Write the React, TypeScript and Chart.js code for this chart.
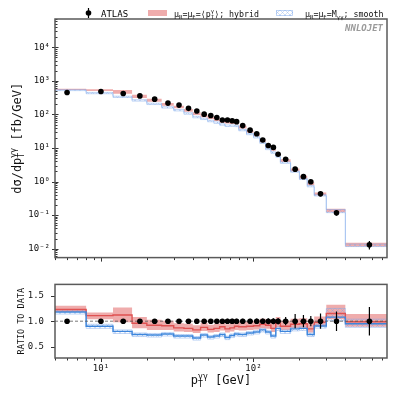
import React, { useEffect, useRef } from "react";
import { Chart, registerables } from "chart.js";

Chart.register(...registerables);

// ---------- data ----------
const binEdges = [4, 8, 12, 16, 20, 25, 30, 35, 40, 45, 50, 55, 60, 65, 70, 75, 80, 90, 100, 110, 120, 130, 140, 150, 175, 200, 225, 250, 300, 400, 750];
const binCenters = [6, 10, 14, 18, 22.5, 27.5, 32.5, 37.5, 42.5, 47.5, 52.5, 57.5, 62.5, 67.5, 72.5, 77.5, 85, 95, 105, 115, 125, 135, 145, 162.5, 187.5, 212.5, 237.5, 275, 350, 575];
const atlasXsec = [450, 482, 421, 357, 286, 218, 190, 152, 126, 102, 93, 81, 68.5, 68.5, 65, 61, 46.5, 34, 26.5, 17.3, 11.9, 10.4, 6.5, 4.6, 2.34, 1.4, 0.99, 0.43, 0.117, 0.0131];
const atlasRelErr = [0.045, 0.04, 0.04, 0.04, 0.04, 0.04, 0.04, 0.04, 0.04, 0.04, 0.045, 0.045, 0.045, 0.05, 0.05, 0.05, 0.05, 0.05, 0.055, 0.055, 0.06, 0.06, 0.065, 0.08, 0.14, 0.12, 0.1, 0.15, 0.19, 0.28];

// theory / data ratios
const hybridRatio = [1.23, 1.11, 1.12, 0.96, 0.92, 0.91, 0.87, 0.86, 0.83, 0.88, 0.84, 0.86, 0.89, 0.85, 0.87, 0.9, 0.89, 0.9, 0.91, 0.94, 0.92, 0.86, 0.96, 0.9, 0.94, 0.95, 0.85, 0.98, 1.15, 0.99];
const hybridRatioLo = [1.18, 1.04, 0.98, 0.86, 0.83, 0.83, 0.8, 0.79, 0.77, 0.81, 0.78, 0.79, 0.82, 0.78, 0.8, 0.83, 0.82, 0.83, 0.84, 0.86, 0.85, 0.79, 0.88, 0.83, 0.86, 0.87, 0.78, 0.9, 1.04, 0.89];
const hybridRatioHi = [1.3, 1.17, 1.27, 1.08, 1.03, 1.01, 0.96, 0.95, 0.92, 0.97, 0.93, 0.95, 0.99, 0.94, 0.97, 1.0, 0.99, 1.0, 1.02, 1.05, 1.03, 0.96, 1.08, 1.01, 1.05, 1.06, 0.96, 1.09, 1.32, 1.14];
const smoothRatio = [1.18, 0.9, 0.8, 0.74, 0.73, 0.75, 0.71, 0.71, 0.67, 0.73, 0.69, 0.71, 0.74, 0.68, 0.72, 0.75, 0.74, 0.77, 0.79, 0.83, 0.79, 0.71, 0.86, 0.8, 0.85, 0.86, 0.74, 0.905, 1.08, 0.95];
const smoothRatioLo = [1.14, 0.86, 0.76, 0.7, 0.69, 0.71, 0.67, 0.67, 0.63, 0.69, 0.65, 0.67, 0.7, 0.64, 0.68, 0.71, 0.7, 0.73, 0.75, 0.79, 0.75, 0.67, 0.82, 0.76, 0.81, 0.82, 0.7, 0.865, 1.01, 0.88];
const smoothRatioHi = [1.22, 0.94, 0.83, 0.77, 0.76, 0.78, 0.74, 0.74, 0.7, 0.76, 0.72, 0.74, 0.77, 0.71, 0.75, 0.78, 0.77, 0.8, 0.82, 0.86, 0.82, 0.74, 0.89, 0.83, 0.88, 0.89, 0.77, 0.94, 1.25, 1.04];

const yDecadeTicks = [1e-2, 1e-1, 1, 10, 100, 1000, 10000];
const ratioTicks = [0.5, 1.0, 1.5];
const xDecadeTicks = [10, 100];

const X_MIN = 5;
const X_MAX = 750;
const Y_MIN = 0.0054;
const Y_MAX = 70000;
const R_MIN = 0.28;
const R_MAX = 1.72;

// ---------- labels ----------
type Part = { t: string; sub?: string; sup?: string };
const yTitleParts: Part[] = [{ t: "dσ/dp", sub: "T", sup: "γγ" }, { t: " [fb/GeV]" }];
const xTitleParts: Part[] = [{ t: "p", sub: "T", sup: "γγ" }, { t: " [GeV]" }];
const hybridLabelParts: Part[] = [{ t: "μ", sub: "R" }, { t: "=μ", sub: "F" }, { t: "=⟨p", sub: "T", sup: "γ" }, { t: "⟩; hybrid" }];
const smoothLabelParts: Part[] = [{ t: "μ", sub: "R" }, { t: "=μ", sub: "F" }, { t: "=M", sub: "γγ" }, { t: "; smooth" }];
const dataLabel = "ATLAS";
const ratioTitle = "RATIO TO DATA";
const watermark = "NNLOJET";

// ---------- style ----------
const FONT = '"DejaVu Sans Mono", "Liberation Mono", monospace';
const RED_FILL = "rgba(226, 104, 104, 0.55)";
const RED_LINE = "#df5252";
const BLUE_EDGE = "rgba(125, 168, 236, 0.6)";
const BLUE_LINE = "#3d86dc";
const HATCH_COLOR = "rgba(125, 165, 230, 0.5)";

const SUP: Record<string, string> = { "0": "⁰", "1": "¹", "2": "²", "3": "³", "4": "⁴", "5": "⁵", "6": "⁶", "7": "⁷", "8": "⁸", "9": "⁹", "-": "⁻" };
const pow10Label = (v: number) =>
  "10" + String(Math.round(Math.log10(v))).split("").map((c) => SUP[c] || c).join("");

function logTickValues(min: number, max: number) {
  const out: { v: number; major: boolean }[] = [];
  for (let d = Math.floor(Math.log10(min)); d <= Math.ceil(Math.log10(max)); d++) {
    for (let m = 1; m <= 9; m++) {
      const v = m * Math.pow(10, d);
      if (v >= min * 0.9999 && v <= max * 1.0001) out.push({ v, major: m === 1 });
    }
  }
  return out;
}

function steps(values: number[], factor?: number[]) {
  return binEdges.map((e, i) => {
    const k = Math.min(i, values.length - 1);
    return { x: e, y: values[k] * (factor ? factor[k] : 1) };
  });
}

function makeHatch(): CanvasPattern | string {
  const c = document.createElement("canvas");
  c.width = 5;
  c.height = 5;
  const g = c.getContext("2d");
  if (!g) return HATCH_COLOR;
  g.strokeStyle = HATCH_COLOR;
  g.lineWidth = 0.7;
  g.beginPath();
  g.moveTo(0, 5);
  g.lineTo(5, 0);
  g.moveTo(0, 0);
  g.lineTo(5, 5);
  g.stroke();
  return g.createPattern(c, "repeat") || HATCH_COLOR;
}

function richWidth(ctx: CanvasRenderingContext2D, parts: Part[], size: number) {
  let w = 0;
  for (const p of parts) {
    ctx.font = `${size}px ${FONT}`;
    w += ctx.measureText(p.t).width;
    ctx.font = `${size * 0.68}px ${FONT}`;
    w += Math.max(p.sub ? ctx.measureText(p.sub).width : 0, p.sup ? ctx.measureText(p.sup).width : 0);
  }
  return w;
}

function drawRich(ctx: CanvasRenderingContext2D, x: number, y: number, parts: Part[], size: number, align: "left" | "center", color = "#111") {
  const w = richWidth(ctx, parts, size);
  let cx = align === "center" ? x - w / 2 : x;
  ctx.textAlign = "left";
  ctx.textBaseline = "alphabetic";
  ctx.fillStyle = color;
  for (const p of parts) {
    ctx.font = `${size}px ${FONT}`;
    ctx.fillText(p.t, cx, y);
    cx += ctx.measureText(p.t).width;
    ctx.font = `${size * 0.68}px ${FONT}`;
    let sw = 0;
    if (p.sub) {
      ctx.fillText(p.sub, cx, y + size * 0.28);
      sw = Math.max(sw, ctx.measureText(p.sub).width);
    }
    if (p.sup) {
      ctx.fillText(p.sup, cx, y - size * 0.42);
      sw = Math.max(sw, ctx.measureText(p.sup).width);
    }
    cx += sw;
  }
}

function drawFrame(chart: any) {
  const { ctx, chartArea: a } = chart;
  ctx.save();
  ctx.strokeStyle = "#5a5a5a";
  ctx.lineWidth = 1.5;
  ctx.strokeRect(a.left, a.top, a.right - a.left, a.bottom - a.top);
  ctx.restore();
}

function drawXTicks(chart: any) {
  const { ctx, chartArea: a, scales } = chart;
  ctx.save();
  ctx.strokeStyle = "#333";
  ctx.lineWidth = 1;
  ctx.beginPath();
  for (const t of logTickValues(X_MIN, X_MAX)) {
    const px = Math.round(scales.x.getPixelForValue(t.v)) + 0.5;
    ctx.moveTo(px, a.bottom);
    ctx.lineTo(px, a.bottom + (t.major ? 4 : 2.5));
  }
  ctx.stroke();
  ctx.restore();
}

const topDecor = {
  id: "topDecor",
  afterDatasetsDraw(chart: any) {
    const { ctx, scales } = chart;
    ctx.save();
    ctx.strokeStyle = "#000";
    ctx.lineWidth = 1.2;
    ctx.beginPath();
    binCenters.forEach((c, i) => {
      const px = scales.x.getPixelForValue(c);
      const v = atlasXsec[i];
      const e = atlasRelErr[i];
      ctx.moveTo(px, scales.y.getPixelForValue(v * (1 - e)));
      ctx.lineTo(px, scales.y.getPixelForValue(v * (1 + e)));
    });
    ctx.stroke();
    ctx.restore();
  },
  afterDraw(chart: any) {
    const { ctx, chartArea: a, scales } = chart;
    drawXTicks(chart);
    ctx.save();
    ctx.strokeStyle = "#333";
    ctx.lineWidth = 1;
    ctx.beginPath();
    for (const t of logTickValues(Y_MIN, Y_MAX)) {
      const py = Math.round(scales.y.getPixelForValue(t.v)) + 0.5;
      if (t.major) {
        ctx.moveTo(a.left - 3, py);
        ctx.lineTo(a.left + 3.5, py);
      } else {
        ctx.moveTo(a.left, py);
        ctx.lineTo(a.left + 2.5, py);
      }
    }
    ctx.stroke();
    ctx.restore();
    drawFrame(chart);

    ctx.save();
    // legend
    ctx.fillStyle = "#000";
    ctx.strokeStyle = "#000";
    ctx.lineWidth = 1.2;
    ctx.beginPath();
    ctx.moveTo(88.5, 8);
    ctx.lineTo(88.5, 18);
    ctx.stroke();
    ctx.beginPath();
    ctx.arc(88.5, 13, 2.8, 0, Math.PI * 2);
    ctx.fill();
    ctx.font = `9px ${FONT}`;
    ctx.textAlign = "left";
    ctx.textBaseline = "alphabetic";
    ctx.fillText(dataLabel, 101, 16.5);

    ctx.fillStyle = RED_FILL;
    ctx.fillRect(148, 10, 19, 6);
    drawRich(ctx, 174, 16.5, hybridLabelParts, 8.3, "left");

    ctx.fillStyle = (chart as any).$hatch || HATCH_COLOR;
    ctx.fillRect(276, 10, 17, 6);
    ctx.strokeStyle = BLUE_EDGE;
    ctx.lineWidth = 0.8;
    ctx.strokeRect(276.5, 10.5, 16, 5);
    drawRich(ctx, 305, 16.5, smoothLabelParts, 8.3, "left");

    // watermark
    ctx.font = `italic bold 9px ${FONT}`;
    ctx.fillStyle = "#9a9a9a";
    ctx.textAlign = "right";
    ctx.fillText(watermark, 383, 31);

    // y title
    ctx.translate(21, (a.top + a.bottom) / 2);
    ctx.rotate(-Math.PI / 2);
    drawRich(ctx, 0, 0, yTitleParts, 12, "center");
    ctx.restore();
  },
};

const ratioDecor = {
  id: "ratioDecor",
  afterDatasetsDraw(chart: any) {
    const { ctx, scales } = chart;
    ctx.save();
    ctx.strokeStyle = "#000";
    ctx.lineWidth = 1.2;
    ctx.beginPath();
    binCenters.forEach((c, i) => {
      const px = scales.x.getPixelForValue(c);
      const e = atlasRelErr[i];
      ctx.moveTo(px, scales.y.getPixelForValue(1 - e));
      ctx.lineTo(px, scales.y.getPixelForValue(1 + e));
    });
    ctx.stroke();
    ctx.restore();
  },
  afterDraw(chart: any) {
    const { ctx, chartArea: a, scales } = chart;
    drawXTicks(chart);
    ctx.save();
    ctx.strokeStyle = "#333";
    ctx.lineWidth = 1;
    ctx.beginPath();
    for (const v of ratioTicks) {
      const py = Math.round(scales.y.getPixelForValue(v)) + 0.5;
      ctx.moveTo(a.left - 4, py);
      ctx.lineTo(a.left, py);
    }
    ctx.stroke();
    ctx.restore();
    drawFrame(chart);

    ctx.save();
    drawRich(ctx, (a.left + a.right) / 2, 116, xTitleParts, 12, "center");
    ctx.translate(23.5, (a.top + a.bottom) / 2);
    ctx.rotate(-Math.PI / 2);
    ctx.font = `8.5px ${FONT}`;
    ctx.fillStyle = "#111";
    ctx.textAlign = "center";
    ctx.textBaseline = "alphabetic";
    ctx.fillText(ratioTitle, 0, 0);
    ctx.restore();
  },
};

const NONE = "rgba(0,0,0,0)";

function bandDatasets(lo: number[], hi: number[], factor: number[] | undefined, fill: any, edge: string, order: number) {
  return [
    { data: steps(lo, factor), stepped: true, borderColor: edge, borderWidth: edge === NONE ? 1 : 0.8, pointRadius: 0, fill: false, order },
    { data: steps(hi, factor), stepped: true, borderColor: edge, borderWidth: edge === NONE ? 1 : 0.8, pointRadius: 0, fill: "-1", backgroundColor: fill, order },
  ];
}

const tickFont = { family: FONT, size: 9 };

export default function App() {
  const topRef = useRef<HTMLCanvasElement>(null);
  const botRef = useRef<HTMLCanvasElement>(null);

  useEffect(() => {
    if (!topRef.current || !botRef.current) return;
    const hatch = makeHatch();

    const top = new Chart(topRef.current, {
      type: "line",
      data: {
        datasets: [
          ...bandDatasets(hybridRatioLo, hybridRatioHi, atlasXsec, RED_FILL, NONE, 20),
          ...bandDatasets(smoothRatioLo, smoothRatioHi, atlasXsec, hatch, BLUE_EDGE, 15),
          {
            type: "scatter",
            data: binCenters.map((c, i) => ({ x: c, y: atlasXsec[i] })),
            pointRadius: 2.8,
            backgroundColor: "#000",
            borderWidth: 0,
            order: 1,
          } as any,
        ],
      },
      options: {
        animation: false,
        responsive: false,
        events: [],
        layout: { padding: { left: 0, right: 11, top: 19, bottom: 8 } },
        plugins: { legend: { display: false }, tooltip: { enabled: false } },
        scales: {
          x: {
            type: "logarithmic",
            min: X_MIN,
            max: X_MAX,
            grid: { display: false, drawTicks: false },
            border: { display: false },
            ticks: { display: false },
            afterFit: (s: any) => {
              s.height = 0;
            },
          },
          y: {
            type: "logarithmic",
            min: Y_MIN,
            max: Y_MAX,
            grid: { display: false, drawTicks: false },
            border: { display: false },
            ticks: { font: tickFont, color: "#111", padding: 5, autoSkip: false, callback: (v: any) => pow10Label(Number(v)) },
            afterBuildTicks: (s: any) => {
              s.ticks = yDecadeTicks.map((v) => ({ value: v }));
            },
            afterFit: (s: any) => {
              s.width = 55;
            },
          },
        },
      } as any,
      plugins: [topDecor],
    });
    (top as any).$hatch = hatch;
    top.draw();

    const bot = new Chart(botRef.current, {
      type: "line",
      data: {
        datasets: [
          ...bandDatasets(hybridRatioLo, hybridRatioHi, undefined, RED_FILL, NONE, 20),
          ...bandDatasets(smoothRatioLo, smoothRatioHi, undefined, hatch, BLUE_EDGE, 15),
          { data: steps(hybridRatio), stepped: true, borderColor: RED_LINE, borderWidth: 1.4, pointRadius: 0, fill: false, order: 6 },
          { data: steps(smoothRatio), stepped: true, borderColor: BLUE_LINE, borderWidth: 1.4, pointRadius: 0, fill: false, order: 5 },
          {
            data: [
              { x: X_MIN, y: 1 },
              { x: X_MAX, y: 1 },
            ],
            borderColor: "#555",
            borderWidth: 0.8,
            borderDash: [3, 2],
            pointRadius: 0,
            fill: false,
            order: 3,
          },
          {
            type: "scatter",
            data: binCenters.map((c) => ({ x: c, y: 1 })),
            pointRadius: 2.8,
            backgroundColor: "#000",
            borderWidth: 0,
            order: 1,
          } as any,
        ],
      },
      options: {
        animation: false,
        responsive: false,
        events: [],
        layout: { padding: { left: 0, right: 11, top: 9, bottom: 0 } },
        plugins: { legend: { display: false }, tooltip: { enabled: false } },
        scales: {
          x: {
            type: "logarithmic",
            min: X_MIN,
            max: X_MAX,
            grid: { display: false, drawTicks: false },
            border: { display: false },
            ticks: { font: tickFont, color: "#111", padding: 5, autoSkip: false, maxRotation: 0, callback: (v: any) => pow10Label(Number(v)) },
            afterBuildTicks: (s: any) => {
              s.ticks = xDecadeTicks.map((v) => ({ value: v }));
            },
            afterFit: (s: any) => {
              s.height = 48;
            },
          },
          y: {
            type: "linear",
            min: R_MIN,
            max: R_MAX,
            grid: { display: false, drawTicks: false },
            border: { display: false },
            ticks: { font: tickFont, color: "#111", padding: 11, autoSkip: false, callback: (v: any) => Number(v).toFixed(1) },
            afterBuildTicks: (s: any) => {
              s.ticks = ratioTicks.map((v) => ({ value: v }));
            },
            afterFit: (s: any) => {
              s.width = 55;
            },
          },
        },
      } as any,
      plugins: [ratioDecor],
    });

    return () => {
      top.destroy();
      bot.destroy();
    };
  }, []);

  return (
    <div style={{ position: "fixed", left: 0, top: 0, width: 398, height: 406, background: "#fff" }}>
      <canvas ref={topRef} width={398} height={268} style={{ position: "absolute", left: 0, top: 0, width: 398, height: 268 }} />
      <canvas ref={botRef} width={398} height={138} style={{ position: "absolute", left: 0, top: 268, width: 398, height: 138 }} />
    </div>
  );
}
